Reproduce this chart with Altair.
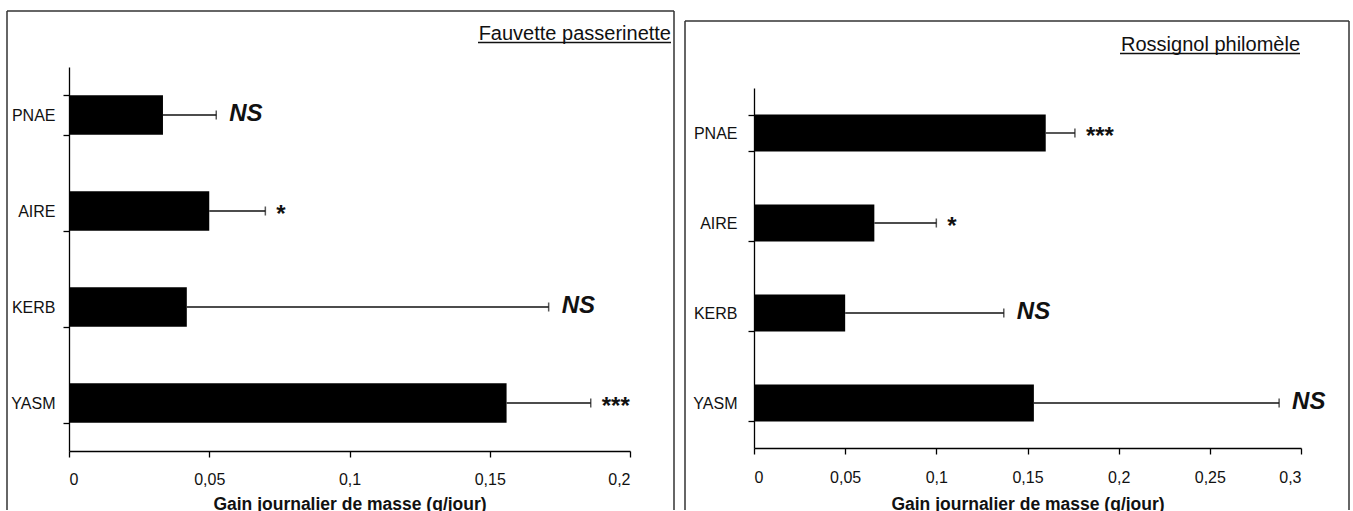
import altair as alt
import pandas as pd

# Sites (top to bottom)
sites = ["PNAE", "AIRE", "KERB", "YASM"]

# Fauvette passerinette: mean daily mass gain (g/day), error, significance
fauvette_gain = [0.0335, 0.050, 0.042, 0.156]
fauvette_err = [0.019, 0.020, 0.129, 0.030]
fauvette_sig = ["NS", "*", "NS", "***"]
fauvette_ticks = [0, 0.05, 0.1, 0.15, 0.2]

# Rossignol philomèle
rossignol_gain = [0.160, 0.066, 0.050, 0.1535]
rossignol_err = [0.016, 0.034, 0.087, 0.1345]
rossignol_sig = ["***", "*", "NS", "NS"]
rossignol_ticks = [0, 0.05, 0.1, 0.15, 0.2, 0.25, 0.3]

X_TITLE = "Gain journalier de masse (g/jour)"
FONT = "Liberation Sans"
INK = "#111111"
FRAME = "#333333"


def panel(title, gain, err, sig, ticks, width, height, y_range, box, title_xy,
          underline_w, y_label_pad, x_label_pad, x_title_pad):
    df = pd.DataFrame({"site": sites, "gain": gain, "err": err, "sig": sig})
    df["upper"] = df["gain"] + df["err"]
    base = alt.Chart(df)
    one = alt.Chart(pd.DataFrame({"k": [0]}))

    x_scale = alt.Scale(domain=[ticks[0], ticks[-1]], nice=False, zero=True)
    y_enc = alt.Y(
        "site:N", sort=sites,
        scale=alt.Scale(range=y_range, paddingInner=0.59, paddingOuter=0.295),
        axis=alt.Axis(title=None, tickBand="extent", labelPadding=y_label_pad,
                      labelFontSize=16, labelAlign="right"),
    )
    x_enc = alt.X(
        "gain:Q", scale=x_scale,
        axis=alt.Axis(values=ticks, title=X_TITLE,
                      labelExpr="replace(format(datum.value, '.2~f'), '.', ',')",
                      labelPadding=x_label_pad, titlePadding=x_title_pad,
                      labelFontSize=16, titleFontSize=17.5, titleFontWeight="bold"),
    )

    bars = base.mark_bar(color="black").encode(x=x_enc, y=y_enc)
    whisker = base.mark_rule(color=INK, strokeWidth=1.4).encode(
        x="gain:Q", x2="upper:Q", y=alt.Y("site:N", sort=sites))
    cap = base.mark_tick(color=INK, thickness=1.5, size=9).encode(
        x="upper:Q", y=alt.Y("site:N", sort=sites))
    ns = base.transform_filter(alt.datum.sig == "NS").mark_text(
        align="left", baseline="middle", dx=13, dy=-1, font=FONT,
        fontSize=24, fontWeight="bold", fontStyle="italic", color=INK,
    ).encode(x="upper:Q", y=alt.Y("site:N", sort=sites), text="sig:N")
    stars = base.transform_filter(alt.datum.sig != "NS").mark_text(
        align="left", baseline="middle", dx=11, dy=4, font=FONT,
        fontSize=24, fontWeight="bold", color=INK,
    ).encode(x="upper:Q", y=alt.Y("site:N", sort=sites), text="sig:N")

    # Panel frame: left, right and top edges (bottom runs off the page)
    bl, br, bt, bb = box
    edge = dict(color=FRAME, strokeWidth=1.5)
    frame_l = one.mark_rule(**edge).encode(x=alt.value(bl), y=alt.value(bt), y2=alt.value(bb))
    frame_r = one.mark_rule(**edge).encode(x=alt.value(br), y=alt.value(bt), y2=alt.value(bb))
    frame_t = one.mark_rule(**edge).encode(x=alt.value(bl), x2=alt.value(br), y=alt.value(bt))

    # Underlined species name in the top-right corner
    tx, ty = title_xy
    heading = one.mark_text(
        text=title, align="right", baseline="alphabetic", font=FONT,
        fontSize=20, color=INK,
    ).encode(x=alt.value(tx), y=alt.value(ty))
    underline = one.mark_rule(color=INK, strokeWidth=1.3).encode(
        x=alt.value(tx - underline_w), x2=alt.value(tx), y=alt.value(ty + 2.5))

    layers = [bars, whisker, cap, ns, stars, frame_l, frame_r, frame_t, heading, underline]
    return alt.layer(*layers).properties(width=width, height=height)


left = panel("Fauvette passerinette", fauvette_gain, fauvette_err, fauvette_sig,
             fauvette_ticks, 561, 384, [0, 384], (-62, 605, -56, 443), (602, -27), 193,
             8, 14, 8)
right = panel("Rossignol philomèle", rossignol_gain, rossignol_err, rossignol_sig,
              rossignol_ticks, 547, 381, [21, 381], (-69, 595, -46, 443), (546, -16), 180,
              11, 15, 10)

chart = alt.hconcat(left, right, spacing=9).properties(
    padding={"left": 6, "top": 10, "right": 0, "bottom": 0},
    background="white",
).configure_view(stroke=None).configure_axis(
    domainColor="black", tickColor="black", domainWidth=1.3, tickWidth=1.3,
    tickSize=6, grid=False, labelFont=FONT, titleFont=FONT,
    labelColor=INK, titleColor=INK,
).configure_text(font=FONT)

chart.save("out.html", embed_options={"renderer": "svg", "actions": False})
